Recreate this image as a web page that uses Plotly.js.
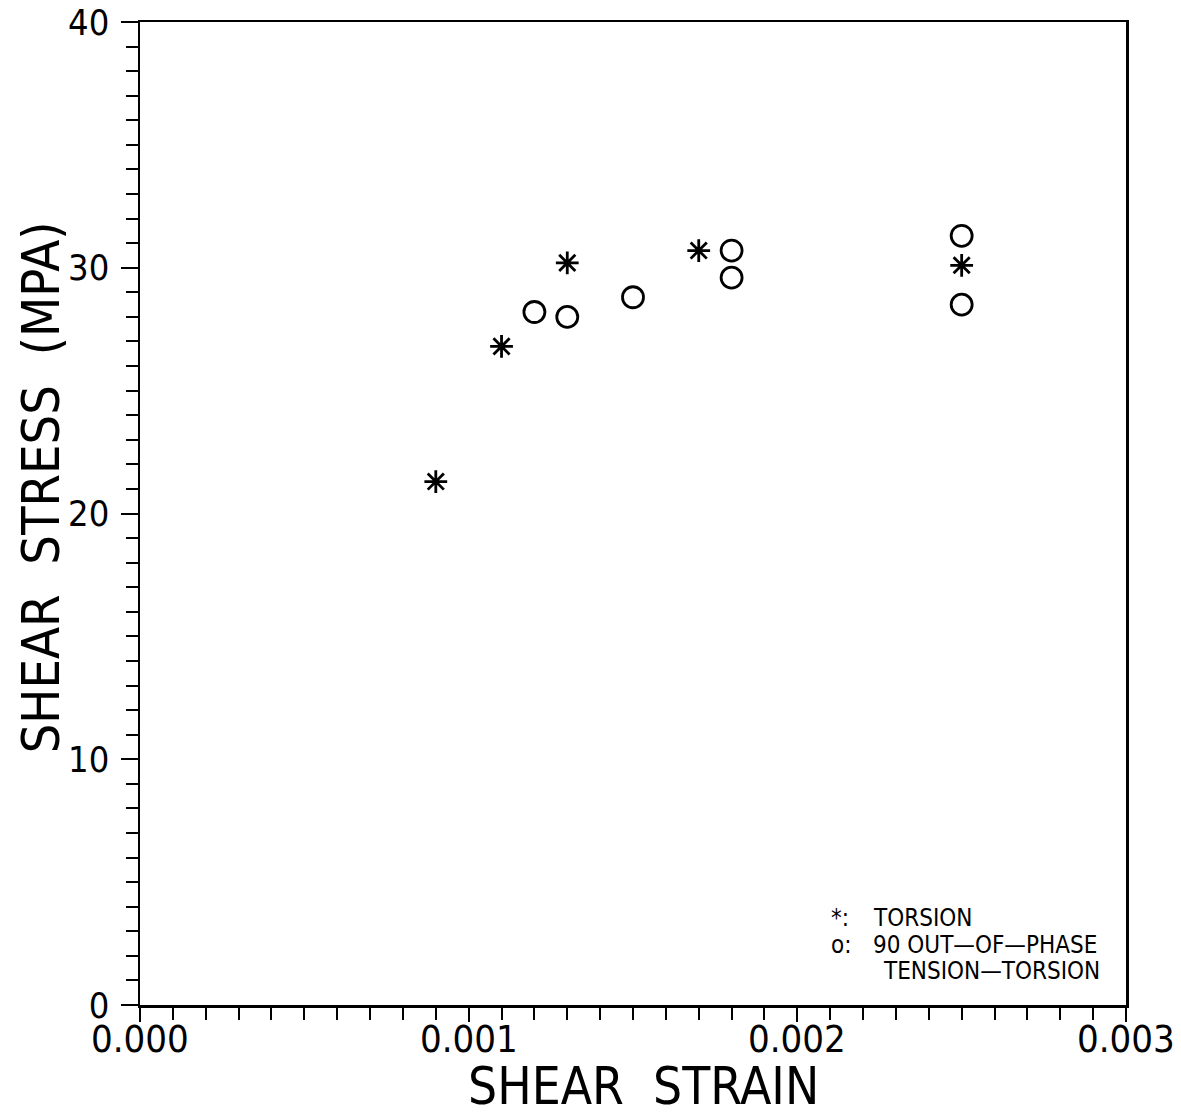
<!DOCTYPE html>
<html>
<head>
<meta charset="utf-8">
<script src="https://cdn.plot.ly/plotly-3.0.1.min.js"></script>
<style>html,body{margin:0;padding:0;background:#fff;}#chart{width:1181px;height:1117px;}</style>
</head>
<body>
<div id="chart"></div>
<script>
// Torsion (asterisks)
const torsionStrain = [0.0009, 0.0011, 0.0013, 0.0017, 0.0025];
const torsionStress = [21.3, 26.8, 30.2, 30.7, 30.1];
// 90 out-of-phase tension-torsion (circles)
const oopStrain = [0.0012, 0.0013, 0.0015, 0.0018, 0.0018, 0.0025, 0.0025];
const oopStress = [28.2, 28.0, 28.8, 30.7, 29.6, 31.3, 28.5];
const xTickVals = [0, 0.001, 0.002, 0.003];
const xTickText = ['0.000', '0.001', '0.002', '0.003'];
const yTickVals = [0, 10, 20, 30, 40];
const xTitle = 'SHEAR  STRAIN';
const yTitle = 'SHEAR  STRESS  (MPA)';
const legendKeys = ['*:', 'o:'];
const legendTexts = ['TORSION', '90 OUT\u2014OF\u2014PHASE', 'TENSION\u2014TORSION'];

const fontFam = 'DejaVu Sans Condensed, DejaVu Sans, sans-serif';
const black = '#000';

const traces = [
  {x: torsionStrain, y: torsionStress, mode: 'markers', type: 'scatter',
   marker: {symbol: 'asterisk-open', size: 19, color: black, line: {color: black, width: 2.8}}},
  {x: oopStrain, y: oopStress, mode: 'markers', type: 'scatter',
   marker: {symbol: 'circle-open', size: 21, color: black, line: {color: black, width: 2.8}}}
];

function ann(text, x, y, xanchor, yanchor, size, extra) {
  return Object.assign({xref: 'paper', yref: 'paper', x: x, y: y, xanchor: xanchor, yanchor: yanchor,
    showarrow: false, borderpad: 0, text: text, font: {family: fontFam, size: size, color: black}}, extra || {});
}

// x tick labels placed on the x scale, just under the axis
const xTickAnns = xTickVals.map((v, i) => ann(xTickText[i], v, -0.0345, 'center', 'middle', 38, {xref: 'x'}));

const layout = {
  width: 1181, height: 1117,
  margin: {l: 140, r: 55, t: 22, b: 112},
  paper_bgcolor: '#fff', plot_bgcolor: '#fff',
  showlegend: false,
  xaxis: {
    range: [0, 0.003], tickvals: xTickVals, showticklabels: false,
    ticks: 'outside', ticklen: 14, tickwidth: 2, tickcolor: black,
    minor: {dtick: 0.0001, tick0: 0, ticks: 'outside', ticklen: 12, tickwidth: 2, tickcolor: black},
    showline: true, linewidth: 2.5, linecolor: black, mirror: true,
    showgrid: false, zeroline: false
  },
  yaxis: {
    range: [0, 40], tickvals: yTickVals,
    ticks: 'outside', ticklen: 17, tickwidth: 2, tickcolor: black,
    ticklabelstandoff: 4,
    minor: {dtick: 1, tick0: 0, ticks: 'outside', ticklen: 12, tickwidth: 2, tickcolor: black},
    showline: true, linewidth: 2.5, linecolor: black, mirror: true,
    showgrid: false, zeroline: false,
    tickfont: {family: fontFam, size: 36, color: black}
  },
  annotations: xTickAnns.concat([
    ann(xTitle, 0.511, -0.1135, 'center', 'bottom', 51),
    ann(yTitle, -0.100, 0.527, 'center', 'middle', 52, {textangle: -90}),
    ann(legendKeys[0], 0.6998, 0.0885, 'left', 'middle', 24),
    ann(legendTexts[0], 0.7424, 0.0885, 'left', 'middle', 24),
    ann(legendKeys[1], 0.6998, 0.0615, 'left', 'middle', 24),
    ann(legendTexts[1], 0.7424, 0.0615, 'left', 'middle', 24),
    ann(legendTexts[2], 0.7525, 0.035, 'left', 'middle', 24)
  ])
};

Plotly.newPlot('chart', traces, layout, {displayModeBar: false, staticPlot: true});
</script>
</body>
</html>
